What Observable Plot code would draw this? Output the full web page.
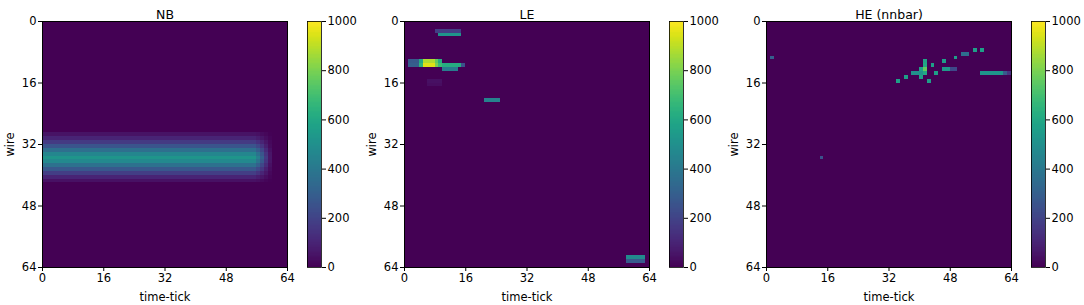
<!DOCTYPE html>
<html><head><meta charset="utf-8">
<script src="https://cdn.jsdelivr.net/npm/d3@7"></script>
<script src="https://cdn.jsdelivr.net/npm/@observablehq/plot@0.6"></script>
<style>
body{margin:0;background:#fff;}
#fig{position:relative;width:1084px;height:305px;overflow:hidden;}
.panel{position:absolute;top:0;}
</style></head><body><div id="fig"></div>
<script>
const GRID = 64;
const axisTicks = [0, 16, 32, 48, 64];
const colorTicks = [0, 200, 400, 600, 800, 1000];
const colorDomain = [0, 1000];
const panelTitles = ["NB", "LE", "HE (nnbar)"];
const xLabel = "time-tick";
const yLabel = "wire";

// NB: a band over wires, constant along time-ticks 0..55, then fading
const nbWires   = [29, 30, 31, 32, 33, 34, 35, 36, 37, 38, 39, 40, 41];
const nbProfile = [50, 100, 170, 260, 360, 460, 520, 470, 370, 270, 180, 100, 45];
const nbFullFrom = 0;
const nbFullTo = 55;
const nbFadeTicks = [56, 57, 58, 59];
const nbFadeLevel = [0.82, 0.58, 0.33, 0.12];

// LE: horizontal runs of hit cells (wire, first tick, last tick, value)
const leWire  = [2, 3, 10, 10, 10, 10, 10, 11, 11, 11, 11, 11, 11, 11, 12, 15, 16, 20, 61, 62];
const leFrom  = [8, 9, 1, 4, 5, 8, 9, 1, 4, 5, 8, 9, 10, 15, 10, 6, 6, 21, 58, 58];
const leTo    = [14, 14, 3, 4, 7, 8, 9, 3, 4, 7, 8, 9, 14, 15, 13, 9, 9, 24, 62, 62];
const leValue = [180, 520, 280, 600, 880, 760, 620, 300, 650, 950, 800, 680, 620, 250, 420, 40, 35, 440, 480, 280];

// HE (nnbar): runs of hit cells
const heWire  = [9, 7, 7, 8, 9, 10, 10, 11, 12, 13, 11, 12, 12, 12, 13, 13, 14, 14, 15, 15, 13, 13, 13, 35];
const heFrom  = [1, 54, 56, 51, 49, 46, 41, 41, 41, 41, 43, 40, 46, 48, 38, 44, 40, 36, 34, 42, 56, 62, 63, 14];
const heTo    = [1, 54, 56, 52, 49, 46, 41, 41, 41, 41, 43, 40, 47, 49, 40, 44, 40, 36, 34, 42, 61, 62, 63, 14];
const heValue = [300, 560, 560, 360, 560, 560, 580, 600, 760, 600, 560, 560, 540, 220, 500, 560, 560, 560, 560, 560, 520, 280, 150, 250];

function runsToMap(wire, from, to, value) {
  const m = new Map();
  wire.forEach((w, i) => { for (let t = from[i]; t <= to[i]; t++) m.set(w * GRID + t, value[i]); });
  return m;
}
function nbMap() {
  const m = new Map();
  nbWires.forEach((w, i) => {
    for (let t = nbFullFrom; t <= nbFullTo; t++) m.set(w * GRID + t, nbProfile[i]);
    nbFadeTicks.forEach((t, j) => m.set(w * GRID + t, nbProfile[i] * nbFadeLevel[j]));
  });
  return m;
}
function toCells(m) {
  const out = [];
  for (let w = 0; w < GRID; w++) for (let t = 0; t < GRID; t++) out.push({w, t, v: m.get(w * GRID + t) ?? 0});
  return out;
}
const panels = [
  toCells(nbMap()),
  toCells(runsToMap(leWire, leFrom, leTo, leValue)),
  toCells(runsToMap(heWire, heFrom, heTo, heValue))
];
const colorBarSteps = d3.range(colorDomain[0], colorDomain[1], 5);

const font = "DejaVu Sans, sans-serif";
const fig = document.getElementById("fig");
const offsets = [0, 362, 724];

panels.forEach((cells, i) => {
  const main = Plot.plot({
    width: 300, height: 305,
    marginLeft: 42, marginRight: 13, marginTop: 21, marginBottom: 38,
    style: {fontFamily: font, fontSize: "11.5px", color: "#000", background: "transparent", overflow: "visible"},
    x: {domain: [0, GRID], ticks: axisTicks, tickFormat: d => String(d), label: xLabel, labelAnchor: "center", labelArrow: "none", labelOffset: 33, tickSize: 4, tickPadding: 2},
    y: {domain: [0, GRID], reverse: true, ticks: axisTicks, tickFormat: d => String(d), label: yLabel, labelAnchor: "center", labelArrow: "none", labelOffset: 37, tickSize: 4, tickPadding: 2},
    color: {type: "linear", scheme: "viridis", domain: colorDomain},
    marks: [
      Plot.rect(cells, {x1: "t", x2: d => d.t + 1, y1: "w", y2: d => d.w + 1, fill: "v", shapeRendering: "crispEdges"}),
      Plot.frame({stroke: "#000", strokeWidth: 1}),
      Plot.text([panelTitles[i]], {frameAnchor: "top", dy: -11, text: d => d, fontSize: 12.5})
    ]
  });
  main.classList.add("panel");
  main.style.left = offsets[i] + "px";
  fig.appendChild(main);

  const bar = Plot.plot({
    width: 60, height: 305,
    marginLeft: 7, marginRight: 39, marginTop: 21, marginBottom: 38,
    style: {fontFamily: font, fontSize: "11.5px", color: "#000", background: "transparent", overflow: "visible"},
    x: {axis: null},
    y: {domain: colorDomain, ticks: colorTicks, tickFormat: d => String(d), axis: "right", label: null, tickSize: 4, tickPadding: 2},
    color: {type: "linear", scheme: "viridis", domain: colorDomain},
    marks: [
      Plot.rect(colorBarSteps, {y1: d => d, y2: d => d + 5, fill: d => d + 2.5, shapeRendering: "crispEdges"}),
      Plot.frame({stroke: "#000", strokeWidth: 0.8})
    ]
  });
  bar.classList.add("panel");
  bar.style.left = (offsets[i] + 300) + "px";
  fig.appendChild(bar);
});
</script></body></html>
